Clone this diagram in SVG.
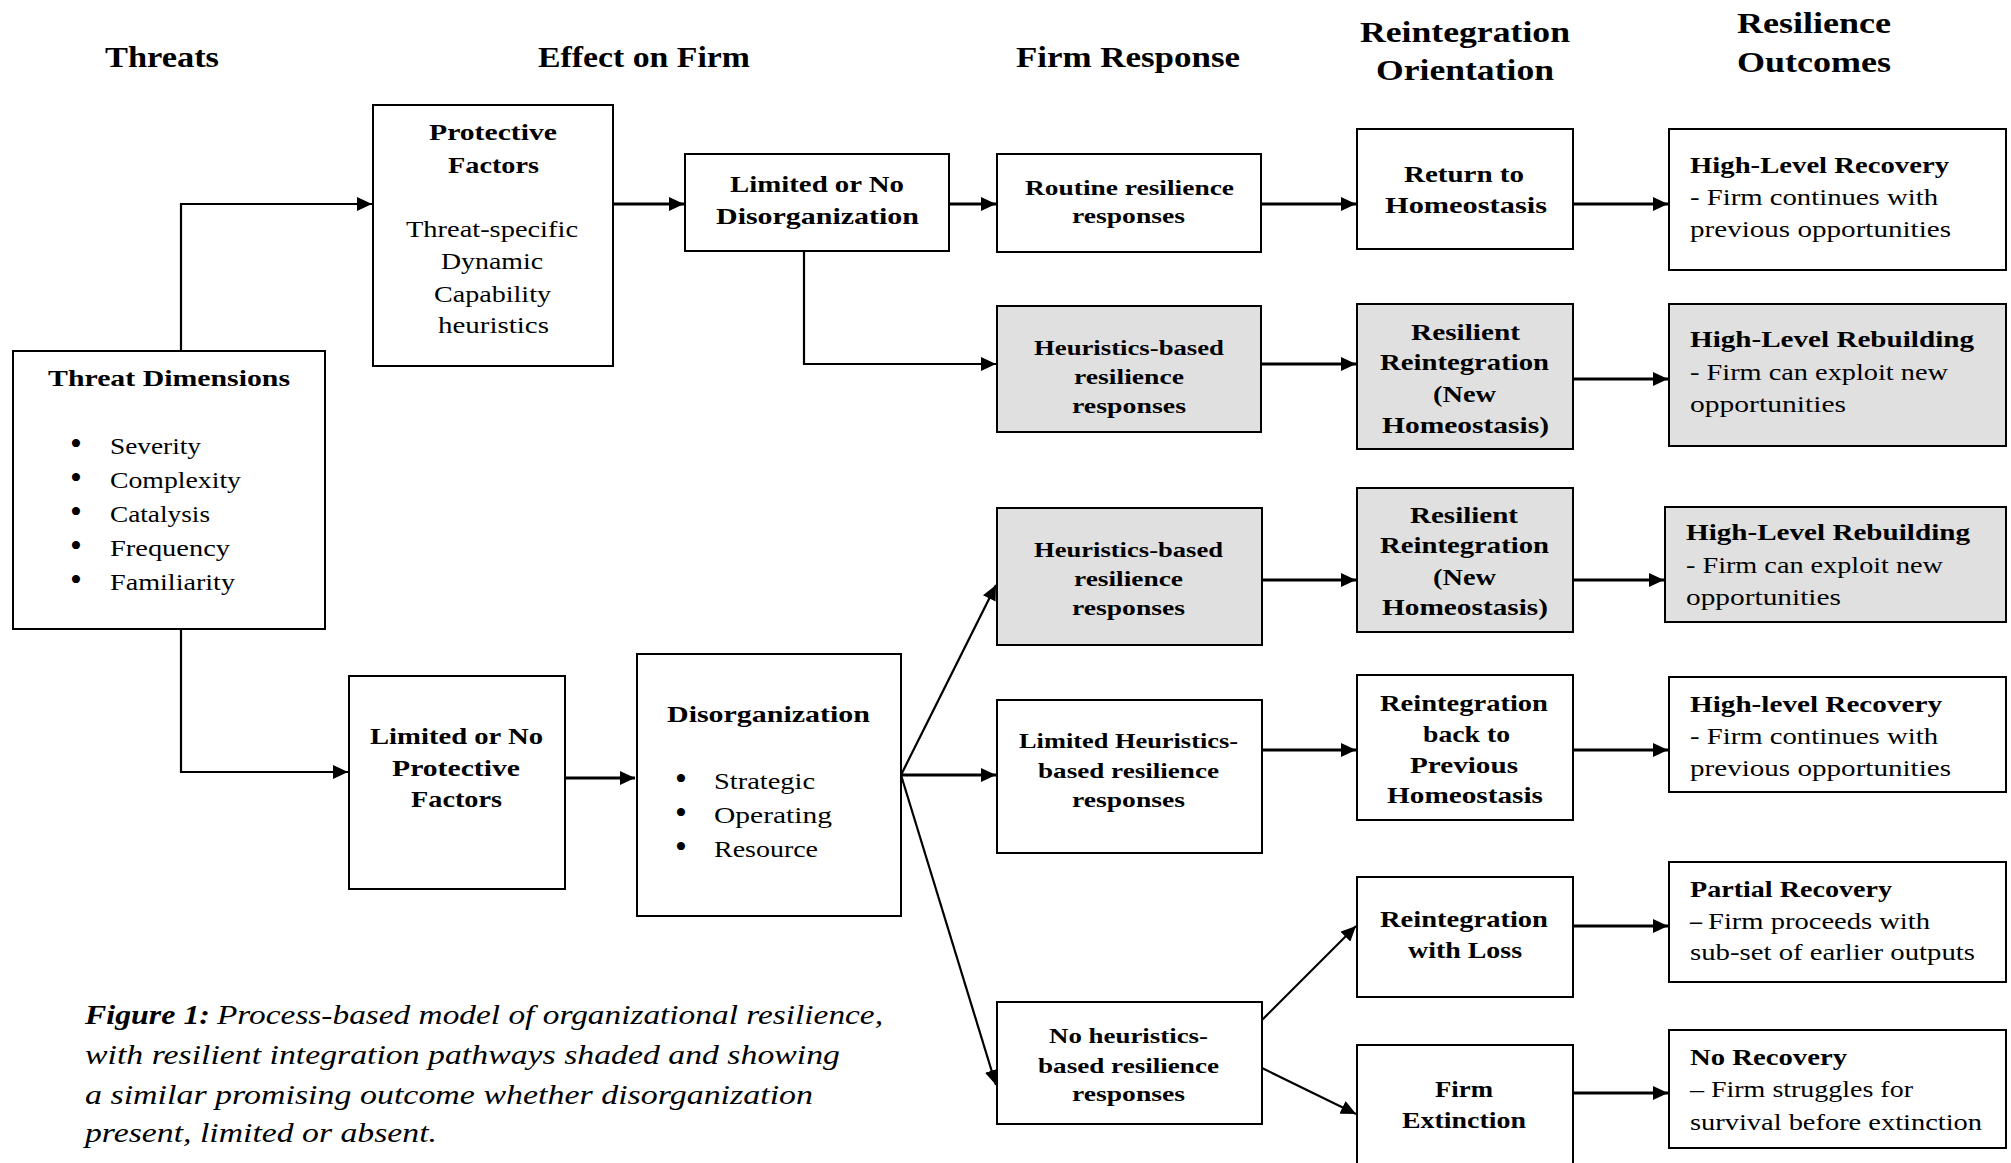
<svg xmlns="http://www.w3.org/2000/svg" width="2011" height="1163" viewBox="0 0 2011 1163">
  <style>
    text { font-family: "Liberation Serif", "Times New Roman", serif; fill: #000; }
    .hd { font-size: 30px; font-weight: bold; }
    .b { font-size: 24px; font-weight: bold; }
    .r { font-size: 24px; }
    .dot { font-size: 34px; }
    .fb { font-size: 22px; font-weight: bold; }
    .cap { font-size: 27px; font-style: italic; }
    .box { fill: #fff; stroke: #000; stroke-width: 2; }
    .shade { fill: #e0e0e0; stroke: #000; stroke-width: 2; }
    .arr { fill: none; stroke: #000; stroke-width: 3; marker-end: url(#head); }
    .thin { fill: none; stroke: #000; stroke-width: 2.2; marker-end: url(#head); }
  </style>
  <defs>
    <marker id="head" markerUnits="userSpaceOnUse" markerWidth="16" markerHeight="14" refX="15" refY="7" orient="auto">
      <path d="M0,0 L15,7 L0,14 z" fill="#000"/>
    </marker>
  </defs>
  <rect width="2011" height="1163" fill="#fff"/>

  <!-- column headings -->
  <g id="headings">
    <text class="hd" x="105" y="67" textLength="114" lengthAdjust="spacingAndGlyphs">Threats</text>
    <text class="hd" x="538" y="67" textLength="212" lengthAdjust="spacingAndGlyphs">Effect on Firm</text>
    <text class="hd" x="1016" y="67" textLength="224" lengthAdjust="spacingAndGlyphs">Firm Response</text>
    <text class="hd" x="1360" y="42" textLength="210" lengthAdjust="spacingAndGlyphs">Reintegration</text>
    <text class="hd" x="1376" y="80" textLength="178" lengthAdjust="spacingAndGlyphs">Orientation</text>
    <text class="hd" x="1737" y="33" textLength="154" lengthAdjust="spacingAndGlyphs">Resilience</text>
    <text class="hd" x="1737" y="72" textLength="154" lengthAdjust="spacingAndGlyphs">Outcomes</text>
  </g>

  <!-- connectors -->
  <g id="connectors">
    <path class="thin" d="M181,351 V204 H372"/>
    <path class="arr" d="M613,204 H684"/>
    <path class="arr" d="M949,204 H996"/>
    <path class="arr" d="M1261,204 H1356"/>
    <path class="arr" d="M1573,204 H1668"/>
    <path class="thin" d="M804,251 V364 H996"/>
    <path class="arr" d="M1261,364 H1356"/>
    <path class="arr" d="M1573,379 H1668"/>
    <path class="thin" d="M181,629 V772 H348"/>
    <path class="arr" d="M565,778 H635"/>
    <path class="thin" d="M901,775 L996,585"/>
    <path class="arr" d="M901,775 H996"/>
    <path class="thin" d="M901,775 L996,1085"/>
    <path class="arr" d="M1262,580 H1356"/>
    <path class="arr" d="M1573,580 H1664"/>
    <path class="arr" d="M1262,750 H1356"/>
    <path class="arr" d="M1573,750 H1668"/>
    <path class="thin" d="M1262,1020 L1356,926"/>
    <path class="thin" d="M1262,1068 L1356,1114"/>
    <path class="arr" d="M1573,926 H1668"/>
    <path class="arr" d="M1573,1093 H1668"/>
  </g>

  <g id="threat-dimensions">
    <rect class="box" x="13" y="351" width="312" height="278"/>
    <text class="b" x="48" y="386" textLength="242" lengthAdjust="spacingAndGlyphs">Threat Dimensions</text>
    <text class="dot" x="70" y="455">•</text>
    <text class="r" x="110" y="454" textLength="91" lengthAdjust="spacingAndGlyphs">Severity</text>
    <text class="dot" x="70" y="489">•</text>
    <text class="r" x="110" y="488" textLength="131" lengthAdjust="spacingAndGlyphs">Complexity</text>
    <text class="dot" x="70" y="523">•</text>
    <text class="r" x="110" y="522" textLength="100" lengthAdjust="spacingAndGlyphs">Catalysis</text>
    <text class="dot" x="70" y="557">•</text>
    <text class="r" x="110" y="556" textLength="120" lengthAdjust="spacingAndGlyphs">Frequency</text>
    <text class="dot" x="70" y="591">•</text>
    <text class="r" x="110" y="590" textLength="125" lengthAdjust="spacingAndGlyphs">Familiarity</text>
  </g>

  <g id="protective-factors">
    <rect class="box" x="373" y="105" width="240" height="261"/>
    <text class="b" x="429" y="140" textLength="128" lengthAdjust="spacingAndGlyphs">Protective</text>
    <text class="b" x="448" y="173" textLength="91" lengthAdjust="spacingAndGlyphs">Factors</text>
    <text class="r" x="406" y="237" textLength="172" lengthAdjust="spacingAndGlyphs">Threat-specific</text>
    <text class="r" x="441" y="269" textLength="102" lengthAdjust="spacingAndGlyphs">Dynamic</text>
    <text class="r" x="434" y="302" textLength="117" lengthAdjust="spacingAndGlyphs">Capability</text>
    <text class="r" x="438" y="333" textLength="111" lengthAdjust="spacingAndGlyphs">heuristics</text>
  </g>

  <g id="limited-disorganization">
    <rect class="box" x="685" y="154" width="264" height="97"/>
    <text class="b" x="730" y="192" textLength="174" lengthAdjust="spacingAndGlyphs">Limited or No</text>
    <text class="b" x="716" y="224" textLength="203" lengthAdjust="spacingAndGlyphs">Disorganization</text>
  </g>

  <g id="limited-protective">
    <rect class="box" x="349" y="676" width="216" height="213"/>
    <text class="b" x="370" y="744" textLength="173" lengthAdjust="spacingAndGlyphs">Limited or No</text>
    <text class="b" x="392" y="776" textLength="128" lengthAdjust="spacingAndGlyphs">Protective</text>
    <text class="b" x="411" y="807" textLength="91" lengthAdjust="spacingAndGlyphs">Factors</text>
  </g>

  <g id="disorganization">
    <rect class="box" x="637" y="654" width="264" height="262"/>
    <text class="b" x="667" y="722" textLength="203" lengthAdjust="spacingAndGlyphs">Disorganization</text>
    <text class="dot" x="675" y="790">•</text>
    <text class="r" x="714" y="789" textLength="101" lengthAdjust="spacingAndGlyphs">Strategic</text>
    <text class="dot" x="675" y="824">•</text>
    <text class="r" x="714" y="823" textLength="118" lengthAdjust="spacingAndGlyphs">Operating</text>
    <text class="dot" x="675" y="858">•</text>
    <text class="r" x="714" y="857" textLength="104" lengthAdjust="spacingAndGlyphs">Resource</text>
  </g>

  <g id="routine-responses">
    <rect class="box" x="997" y="154" width="264" height="98"/>
    <text class="fb" x="1025" y="195" textLength="209" lengthAdjust="spacingAndGlyphs">Routine resilience</text>
    <text class="fb" x="1072" y="223" textLength="113" lengthAdjust="spacingAndGlyphs">responses</text>
  </g>

  <g id="heuristics-responses-a">
    <rect class="shade" x="997" y="306" width="264" height="126"/>
    <text class="fb" x="1034" y="355" textLength="190" lengthAdjust="spacingAndGlyphs">Heuristics-based</text>
    <text class="fb" x="1074" y="384" textLength="110" lengthAdjust="spacingAndGlyphs">resilience</text>
    <text class="fb" x="1072" y="413" textLength="114" lengthAdjust="spacingAndGlyphs">responses</text>
  </g>

  <g id="heuristics-responses-b">
    <rect class="shade" x="997" y="508" width="265" height="137"/>
    <text class="fb" x="1034" y="557" textLength="189" lengthAdjust="spacingAndGlyphs">Heuristics-based</text>
    <text class="fb" x="1074" y="586" textLength="109" lengthAdjust="spacingAndGlyphs">resilience</text>
    <text class="fb" x="1072" y="615" textLength="113" lengthAdjust="spacingAndGlyphs">responses</text>
  </g>

  <g id="limited-heuristics">
    <rect class="box" x="997" y="700" width="265" height="153"/>
    <text class="fb" x="1019" y="748" textLength="219" lengthAdjust="spacingAndGlyphs">Limited Heuristics-</text>
    <text class="fb" x="1038" y="778" textLength="181" lengthAdjust="spacingAndGlyphs">based resilience</text>
    <text class="fb" x="1072" y="807" textLength="113" lengthAdjust="spacingAndGlyphs">responses</text>
  </g>

  <g id="no-heuristics">
    <rect class="box" x="997" y="1002" width="265" height="122"/>
    <text class="fb" x="1049" y="1043" textLength="159" lengthAdjust="spacingAndGlyphs">No heuristics-</text>
    <text class="fb" x="1038" y="1073" textLength="181" lengthAdjust="spacingAndGlyphs">based resilience</text>
    <text class="fb" x="1072" y="1101" textLength="113" lengthAdjust="spacingAndGlyphs">responses</text>
  </g>

  <g id="return-homeostasis">
    <rect class="box" x="1357" y="129" width="216" height="120"/>
    <text class="b" x="1404" y="182" textLength="120" lengthAdjust="spacingAndGlyphs">Return to</text>
    <text class="b" x="1385" y="213" textLength="162" lengthAdjust="spacingAndGlyphs">Homeostasis</text>
  </g>

  <g id="resilient-reintegration-a">
    <rect class="shade" x="1357" y="304" width="216" height="145"/>
    <text class="b" x="1411" y="340" textLength="109" lengthAdjust="spacingAndGlyphs">Resilient</text>
    <text class="b" x="1380" y="370" textLength="169" lengthAdjust="spacingAndGlyphs">Reintegration</text>
    <text class="b" x="1433" y="402" textLength="63" lengthAdjust="spacingAndGlyphs">(New</text>
    <text class="b" x="1382" y="433" textLength="167" lengthAdjust="spacingAndGlyphs">Homeostasis)</text>
  </g>

  <g id="resilient-reintegration-b">
    <rect class="shade" x="1357" y="488" width="216" height="144"/>
    <text class="b" x="1410" y="523" textLength="108" lengthAdjust="spacingAndGlyphs">Resilient</text>
    <text class="b" x="1380" y="553" textLength="169" lengthAdjust="spacingAndGlyphs">Reintegration</text>
    <text class="b" x="1433" y="585" textLength="63" lengthAdjust="spacingAndGlyphs">(New</text>
    <text class="b" x="1382" y="615" textLength="166" lengthAdjust="spacingAndGlyphs">Homeostasis)</text>
  </g>

  <g id="back-to-previous">
    <rect class="box" x="1357" y="675" width="216" height="145"/>
    <text class="b" x="1380" y="711" textLength="168" lengthAdjust="spacingAndGlyphs">Reintegration</text>
    <text class="b" x="1423" y="742" textLength="87" lengthAdjust="spacingAndGlyphs">back to</text>
    <text class="b" x="1410" y="773" textLength="108" lengthAdjust="spacingAndGlyphs">Previous</text>
    <text class="b" x="1387" y="803" textLength="156" lengthAdjust="spacingAndGlyphs">Homeostasis</text>
  </g>

  <g id="with-loss">
    <rect class="box" x="1357" y="877" width="216" height="120"/>
    <text class="b" x="1380" y="927" textLength="168" lengthAdjust="spacingAndGlyphs">Reintegration</text>
    <text class="b" x="1408" y="958" textLength="114" lengthAdjust="spacingAndGlyphs">with Loss</text>
  </g>

  <g id="firm-extinction">
    <rect class="box" x="1357" y="1045" width="216" height="135"/>
    <text class="b" x="1435" y="1097" textLength="58" lengthAdjust="spacingAndGlyphs">Firm</text>
    <text class="b" x="1402" y="1128" textLength="124" lengthAdjust="spacingAndGlyphs">Extinction</text>
  </g>

  <g id="recovery-a">
    <rect class="box" x="1669" y="129" width="337" height="141"/>
    <text class="b" x="1690" y="173" textLength="259" lengthAdjust="spacingAndGlyphs">High-Level Recovery</text>
    <text class="r" x="1690" y="205" textLength="248" lengthAdjust="spacingAndGlyphs">- Firm continues with</text>
    <text class="r" x="1690" y="237" textLength="261" lengthAdjust="spacingAndGlyphs">previous opportunities</text>
  </g>

  <g id="rebuilding-a">
    <rect class="shade" x="1669" y="304" width="337" height="142"/>
    <text class="b" x="1690" y="347" textLength="284" lengthAdjust="spacingAndGlyphs">High-Level Rebuilding</text>
    <text class="r" x="1690" y="380" textLength="258" lengthAdjust="spacingAndGlyphs">- Firm can exploit new</text>
    <text class="r" x="1690" y="412" textLength="156" lengthAdjust="spacingAndGlyphs">opportunities</text>
  </g>

  <g id="rebuilding-b">
    <rect class="shade" x="1665" y="507" width="341" height="115"/>
    <text class="b" x="1686" y="540" textLength="284" lengthAdjust="spacingAndGlyphs">High-Level Rebuilding</text>
    <text class="r" x="1686" y="573" textLength="257" lengthAdjust="spacingAndGlyphs">- Firm can exploit new</text>
    <text class="r" x="1686" y="605" textLength="155" lengthAdjust="spacingAndGlyphs">opportunities</text>
  </g>

  <g id="recovery-b">
    <rect class="box" x="1669" y="677" width="337" height="115"/>
    <text class="b" x="1690" y="712" textLength="252" lengthAdjust="spacingAndGlyphs">High-level Recovery</text>
    <text class="r" x="1690" y="744" textLength="248" lengthAdjust="spacingAndGlyphs">- Firm continues with</text>
    <text class="r" x="1690" y="776" textLength="261" lengthAdjust="spacingAndGlyphs">previous opportunities</text>
  </g>

  <g id="partial-recovery">
    <rect class="box" x="1669" y="862" width="337" height="120"/>
    <text class="b" x="1690" y="897" textLength="202" lengthAdjust="spacingAndGlyphs">Partial Recovery</text>
    <text class="b" x="1690" y="929">–</text>
    <text class="r" x="1708" y="929" textLength="222" lengthAdjust="spacingAndGlyphs">Firm proceeds with</text>
    <text class="r" x="1690" y="960" textLength="285" lengthAdjust="spacingAndGlyphs">sub-set of earlier outputs</text>
  </g>

  <g id="no-recovery">
    <rect class="box" x="1669" y="1030" width="337" height="118"/>
    <text class="b" x="1690" y="1065" textLength="157" lengthAdjust="spacingAndGlyphs">No Recovery</text>
    <text class="r" x="1690" y="1097" textLength="223" lengthAdjust="spacingAndGlyphs">– Firm struggles for</text>
    <text class="r" x="1690" y="1130" textLength="292" lengthAdjust="spacingAndGlyphs">survival before extinction</text>
  </g>

  <!-- figure caption -->
  <g id="caption">
    <text class="cap" x="85" y="1024" font-weight="bold" textLength="125" lengthAdjust="spacingAndGlyphs">Figure 1:</text>
    <text class="cap" x="217" y="1024" textLength="666" lengthAdjust="spacingAndGlyphs">Process-based model of organizational resilience,</text>
    <text class="cap" x="85" y="1064" textLength="755" lengthAdjust="spacingAndGlyphs">with resilient integration pathways shaded and showing</text>
    <text class="cap" x="85" y="1104" textLength="728" lengthAdjust="spacingAndGlyphs">a similar promising outcome whether disorganization</text>
    <text class="cap" x="85" y="1142" textLength="352" lengthAdjust="spacingAndGlyphs">present, limited or absent.</text>
  </g>
</svg>
